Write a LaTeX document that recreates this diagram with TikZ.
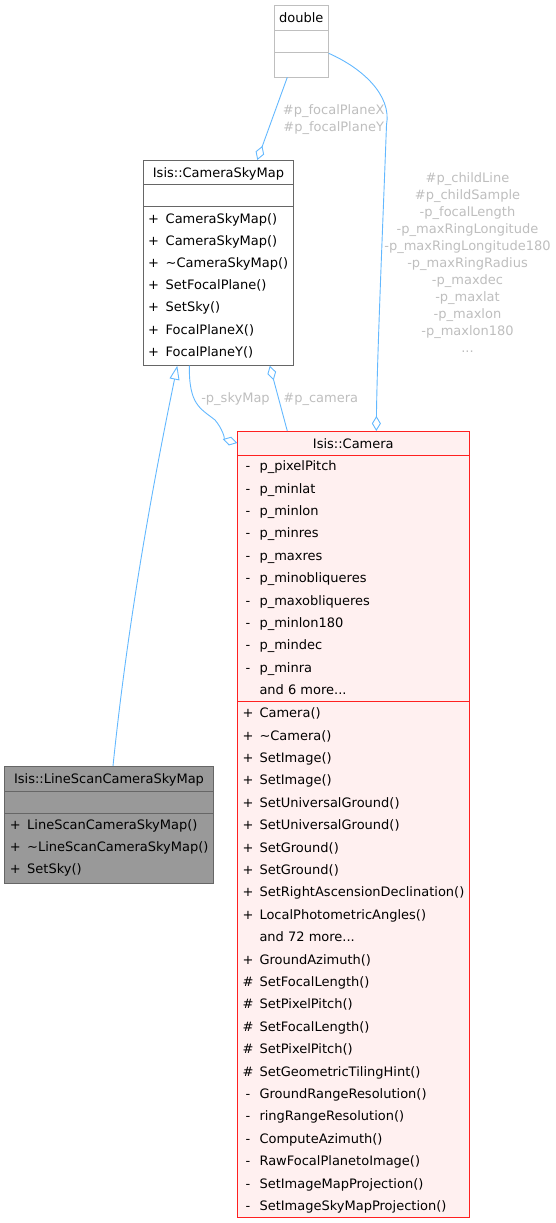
\documentclass[tikz,border=0pt]{standalone}
\usepackage{fontspec}
\setmainfont{DejaVu Sans}
\usetikzlibrary{arrows.meta}
\definecolor{edgeblue}{HTML}{63B8FF}
\definecolor{lblgray}{HTML}{BEBEBE}
\definecolor{boxgray}{HTML}{666666}
\definecolor{undocgray}{HTML}{BFBFBF}
\definecolor{focusfill}{HTML}{999999}
\definecolor{camfill}{HTML}{FFF0F0}
\definecolor{camborder}{HTML}{FF2020}
\newcommand{\threedots}{...}
\begin{document}
\begin{tikzpicture}[x=1pt,y=-1pt,
  box/.style={rectangle, inner sep=0pt, outer sep=0pt, anchor=north west, line width=1pt},
  txt/.style={font=\fontsize{13}{15}\selectfont, inner sep=0pt, text height=9.5pt, text depth=0pt},
  member/.style={txt, anchor=west},
  sym/.style={txt, anchor=center},
  title/.style={txt, anchor=center},
  lbl/.style={txt, anchor=center, text=lblgray},
  conn/.style={draw=edgeblue, line width=0.9pt},
  agg/.style={conn, -{Diamond[open, length=15pt, width=9pt]}},
  inh/.style={conn, -{Triangle[open, length=14pt, width=10pt]}}
]
\useasboundingbox (0,0) rectangle (556,1223);

% ---------- boxes ----------
\node[box, draw=undocgray, fill=white, minimum width=54.7pt, minimum height=72pt] (dbl) at (274,5.3) {};
\node[box, draw=boxgray, fill=white, minimum width=150.4pt, minimum height=205.7pt] (csm) at (143.3,160) {};
\node[box, draw=camborder, fill=camfill, minimum width=232pt, minimum height=786.7pt] (cam) at (237.3,431) {};
\node[box, draw=boxgray, fill=focusfill, minimum width=208.6pt, minimum height=117.3pt] (ls) at (4.7,766) {};

% separators
\draw[undocgray, line width=1pt] (274,30.7) -- (328.7,30.7) (274,52.3) -- (328.7,52.3);
\draw[boxgray, line width=1pt] (143.3,184.7) -- (293.7,184.7) (143.3,206.7) -- (293.7,206.7);
\draw[camborder, line width=1pt] (237.3,455.7) -- (469.3,455.7) (237.3,701.7) -- (469.3,701.7);
\draw[boxgray, line width=1pt] (4.7,791) -- (213.3,791) (4.7,813.3) -- (213.3,813.3);

% ---------- titles ----------
\node[title] (dblT) at (301.3,18) {double};
\node[title] (csmT) at (218.5,172.3) {Isis::CameraSkyMap};
\node[title] (camT) at (353.3,443.3) {Isis::Camera};
\node[title] (lsT) at (109,778.5) {Isis::LineScanCameraSkyMap};

% ---------- CameraSkyMap members ----------
\foreach \s/\t [count=\i from 0] in {+/CameraSkyMap(), +/CameraSkyMap(), +/\textasciitilde CameraSkyMap(),
  +/SetFocalPlane(), +/SetSky(), +/FocalPlaneX(), +/FocalPlaneY()} {
  \node[sym] (csmS\i) at (153.6,218.3+22.2*\i) {\s};
  \node[member] (csmM\i) at (165.5,218.3+22.2*\i) {\t};
}

% ---------- Camera attributes ----------
\foreach \s/\t [count=\i from 0] in {-/p\_pixelPitch, -/p\_minlat, -/p\_minlon, -/p\_minres, -/p\_maxres,
  -/p\_minobliqueres, -/p\_maxobliqueres, -/p\_minlon180, -/p\_mindec, -/p\_minra, {}/and 6 more\threedots} {
  \node[sym] (camSa\i) at (248,466+22.4*\i) {\s};
  \node[member] (camA\i) at (259.3,466+22.4*\i) {\t};
}

% ---------- Camera methods ----------
\foreach \s/\t [count=\i from 0] in {+/Camera(), +/\textasciitilde Camera(), +/SetImage(), +/SetImage(),
  +/SetUniversalGround(), +/SetUniversalGround(), +/SetGround(), +/SetGround(),
  +/SetRightAscensionDeclination(), +/LocalPhotometricAngles(), {}/and 72 more\threedots,
  +/GroundAzimuth(), \#/SetFocalLength(), \#/SetPixelPitch(), \#/SetFocalLength(),
  \#/SetPixelPitch(), \#/SetGeometricTilingHint(), -/GroundRangeResolution(),
  -/ringRangeResolution(), -/ComputeAzimuth(), -/RawFocalPlanetoImage(),
  -/SetImageMapProjection(), -/SetImageSkyMapProjection()} {
  \node[sym] (camSm\i) at (248,713+22.4*\i) {\s};
  \node[member] (camM\i) at (259.3,713+22.4*\i) {\t};
}

% ---------- LineScanCameraSkyMap members ----------
\foreach \s/\t [count=\i from 0] in {+/LineScanCameraSkyMap(), +/\textasciitilde LineScanCameraSkyMap(), +/SetSky()} {
  \node[sym] (lsS\i) at (15.2,825+21.8*\i) {\s};
  \node[member] (lsM\i) at (27,825+21.8*\i) {\t};
}

% ---------- connectors ----------
\draw[agg] ([xshift=13.3pt]dbl.south west) -- ([xshift=114pt]csm.north west);
\draw[agg] ([yshift=-12pt]dbl.east) .. controls (362,68) and (392,95) .. (386.5,125)
  .. controls (383,220) and (377,360) .. ([xshift=139pt]cam.north west);
\draw[agg] ([xshift=46pt]csm.south west) .. controls (189,405) and (200,408) .. (215,420)
  .. controls (222,428) and (226,440) .. ([yshift=-12pt]cam.north west);
\draw[agg] ([xshift=50pt]cam.north west) -- ([xshift=126.5pt]csm.south west);
\draw[inh] ([xshift=108.3pt]ls.north west) .. controls (130,600) and (160,450) .. ([xshift=34pt]csm.south west);

% ---------- connector labels ----------
\node[lbl] (l1a) at (333.7,110) {\#p\_focalPlaneX};
\node[lbl] (l1b) at (333.7,126.7) {\#p\_focalPlaneY};
\foreach \t [count=\i from 0] in {\#p\_childLine, \#p\_childSample, -p\_focalLength, -p\_maxRingLongitude,
  -p\_maxRingLongitude180, -p\_maxRingRadius, -p\_maxdec, -p\_maxlat, -p\_maxlon, -p\_maxlon180, \threedots} {
  \node[lbl] (l2n\i) at (467.5,177.3+17*\i) {\t};
}
\node[lbl] (l3) at (235.5,398) {-p\_skyMap};
\node[lbl] (l4) at (320.8,398) {\#p\_camera};
\end{tikzpicture}
\end{document}
